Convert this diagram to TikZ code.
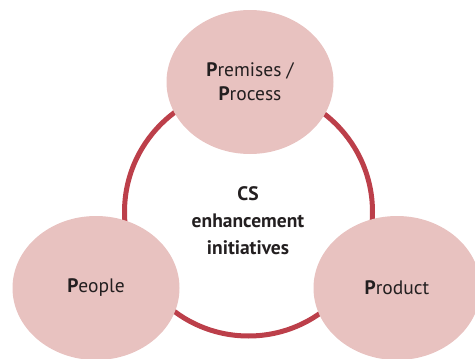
\documentclass[tikz,border=0pt]{standalone}
\usepackage{fontspec}
\setmainfont{PT Sans}
\usetikzlibrary{shapes.geometric, positioning}
\definecolor{ringred}{HTML}{BC3F4A}
\definecolor{petal}{HTML}{E8C2C0}
\definecolor{inkgray}{HTML}{231F20}

\begin{document}
\begin{tikzpicture}[x=1pt,y=-1pt,font=\fontsize{19.5}{24}\selectfont,
  petalnode/.style={ellipse, fill=petal, minimum width=167pt, minimum height=144pt, inner sep=0pt, align=center, text=inkgray},
  ringnode/.style={circle, draw=ringred, line width=5pt, minimum size=248pt, inner sep=0pt}]
  \useasboundingbox (0,0) rectangle (475,359);
  \node[ringnode] (ring) at (248.5,212) {};
  \node[font=\bfseries\fontsize{19.5}{27}\selectfont, align=center, text=inkgray] (core) at (248,221) {CS\\enhancement\\initiatives};
  \node[petalnode] (premises) at (250,82) {\textbf{P}remises /\\\textbf{P}rocess};
  \node[petalnode] (people) at (96,288) {\textbf{P}eople};
  \node[petalnode] (product) at (397,288) {\textbf{P}roduct};
\end{tikzpicture}
\end{document}
